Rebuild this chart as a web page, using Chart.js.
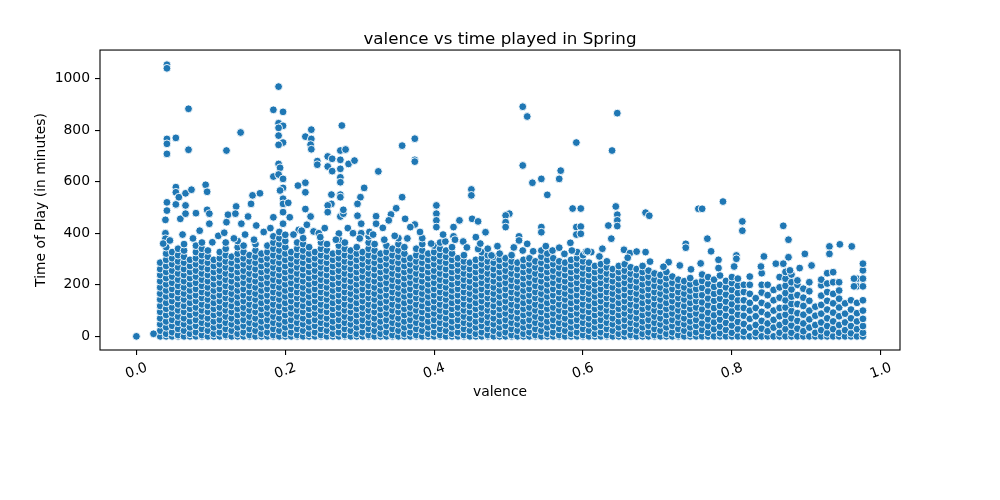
<!DOCTYPE html>
<html>
<head>
<meta charset="utf-8">
<script src="https://cdn.jsdelivr.net/npm/chart.js@4.4.0/dist/chart.umd.min.js"></script>
<style>
html,body{margin:0;padding:0;background:#ffffff;}
#wrap{width:1000px;height:500px;}
</style>
</head>
<body>
<div id="wrap"><canvas id="c" width="1000" height="500"></canvas></div>
<script>
const chartTitle = 'valence vs time played in Spring';
const xLabel = 'valence';
const yLabel = 'Time of Play (in minutes)';
const xTicks = [0.0, 0.2, 0.4, 0.6, 0.8, 1.0];
const xTickLabels = ['0.0', '0.2', '0.4', '0.6', '0.8', '1.0'];
const yTicks = [0, 200, 400, 600, 800, 1000];
const yTickLabels = ['0', '200', '400', '600', '800', '1000'];

// dense body of the cloud: one valence per column, with the play times read in that column
const colValence = [
0.032,0.040,0.048,0.056,0.064,0.072,0.080,0.088,0.096,0.104,0.112,0.120,0.128,0.136,0.144,0.152,0.160,0.168,0.176,0.184,
0.192,0.200,0.208,0.216,0.224,0.232,0.240,0.248,0.256,0.264,0.272,0.280,0.288,0.296,0.304,0.312,0.320,0.328,0.336,0.344,
0.352,0.360,0.368,0.376,0.384,0.392,0.400,0.408,0.416,0.424,0.432,0.440,0.448,0.456,0.464,0.472,0.480,0.488,0.496,0.504,
0.512,0.520,0.528,0.536,0.544,0.552,0.560,0.568,0.576,0.584,0.592,0.600,0.608,0.616,0.624,0.632,0.640,0.648,0.656,0.664,
0.672,0.680,0.688,0.696,0.704,0.712,0.720,0.728,0.736,0.744,0.752,
0.760,0.768,0.776,0.784,0.792,0.800,0.808,0.816,0.824,0.832,0.840,0.848,0.856,0.864,0.872,0.880,0.888,0.896,0.904,0.912,
0.920,0.928,0.936,0.944,0.952,0.960,0.968,0.976
];
const colTimes = [
[0,22,47,70,95,118,143,166,190,214,238,261,286],
[0,10,35,58,83,107,130,155,178,202,226,250,273,297,321],
[0,16,41,64,89,112,137,160,184,208,232,255,280,303,327],
[0,5,29,53,77,101,124,149,172,196,220,244,268,291,315,340],
[0,22,47,70,95,118,143,166,190,214,238,261,286,309,333,358],
[0,10,35,58,83,107,130,155,178,202,226,250,273,297],
[0,16,41,64,89,112,137,160,184,208,232,255,280,303,327,352],
[0,5,29,53,77,101,124,149,172,196,220,244,268,291,315,340,364],
[0,22,47,70,95,118,143,166,190,214,238,261,286,309,333],
[0,10,35,58,83,107,130,155,178,202,226,250,273,297],
[0,16,41,64,89,112,137,160,184,208,232,255,280,303,327],
[0,5,29,53,77,101,124,149,172,196,220,244,268,291,315,340,364],
[0,22,47,70,95,118,143,166,190,214,238,261,286,309],
[0,10,35,58,83,107,130,155,178,202,226,250,273,297,321,346,370],
[0,16,41,64,89,112,137,160,184,208,232,255,280,303,327,352],
[0,5,29,53,77,101,124,149,172,196,220,244,268,291,315],
[0,22,47,70,95,118,143,166,190,214,238,261,286,309,333,358],
[0,10,35,58,83,107,130,155,178,202,226,250,273,297,321],
[0,16,41,64,89,112,137,160,184,208,232,255,280,303,327,352],
[0,5,29,53,77,101,124,149,172,196,220,244,268,291,315,340,364,388],
[0,22,47,70,95,118,143,166,190,214,238,261,286,309,333,358,381,405],
[0,10,35,58,83,107,130,155,178,202,226,250,273,297,321,346,370,394],
[0,16,41,64,89,112,137,160,184,208,232,255,280,303,327],
[0,5,29,53,77,101,124,149,172,196,220,244,268,291,315,340,364],
[0,22,47,70,95,118,143,166,190,214,238,261,286,309,333,358,381],
[0,10,35,58,83,107,130,155,178,202,226,250,273,297,321,346],
[0,16,41,64,89,112,137,160,184,208,232,255,280,303,327],
[0,5,29,53,77,101,124,149,172,196,220,244,268,291,315,340,364],
[0,22,47,70,95,118,143,166,190,214,238,261,286,309,333,358],
[0,10,35,58,83,107,130,155,178,202,226,250,273,297,321],
[0,16,41,64,89,112,137,160,184,208,232,255,280,303,327,352,375,399],
[0,5,29,53,77,101,124,149,172,196,220,244,268,291,315,340,364],
[0,22,47,70,95,118,143,166,190,214,238,261,286,309,333],
[0,10,35,58,83,107,130,155,178,202,226,250,273,297,321,346],
[0,16,41,64,89,112,137,160,184,208,232,255,280,303,327],
[0,5,29,53,77,101,124,149,172,196,220,244,268,291,315,340,364,388],
[0,22,47,70,95,118,143,166,190,214,238,261,286,309,333,358],
[0,10,35,58,83,107,130,155,178,202,226,250,273,297,321],
[0,16,41,64,89,112,137,160,184,208,232,255,280,303,327,352],
[0,5,29,53,77,101,124,149,172,196,220,244,268,291,315,340],
[0,22,47,70,95,118,143,166,190,214,238,261,286,309,333,358,381],
[0,10,35,58,83,107,130,155,178,202,226,250,273,297,321,346],
[0,16,41,64,89,112,137,160,184,208,232,255,280,303],
[0,5,29,53,77,101,124,149,172,196,220,244,268,291,315,340],
[0,22,47,70,95,118,143,166,190,214,238,261,286,309,333,358,381],
[0,10,35,58,83,107,130,155,178,202,226,250,273,297,321],
[0,16,41,64,89,112,137,160,184,208,232,255,280,303,327,352],
[0,5,29,53,77,101,124,149,172,196,220,244,268,291,315,340,364],
[0,22,47,70,95,118,143,166,190,214,238,261,286,309,333],
[0,10,35,58,83,107,130,155,178,202,226,250,273,297,321,346],
[0,16,41,64,89,112,137,160,184,208,232,255,280,303],
[0,5,29,53,77,101,124,149,172,196,220,244,268,291,315],
[0,22,47,70,95,118,143,166,190,214,238,261,286],
[0,10,35,58,83,107,130,155,178,202,226,250,273,297],
[0,16,41,64,89,112,137,160,184,208,232,255,280,303,327],
[0,5,29,53,77,101,124,149,172,196,220,244,268,291,315,340],
[0,22,47,70,95,118,143,166,190,214,238,261,286,309],
[0,10,35,58,83,107,130,155,178,202,226,250,273,297,321],
[0,16,41,64,89,112,137,160,184,208,232,255,280,303],
[0,5,29,53,77,101,124,149,172,196,220,244,268,291,315],
[0,22,47,70,95,118,143,166,190,214,238,261,286],
[0,10,35,58,83,107,130,155,178,202,226,250,273,297],
[0,16,41,64,89,112,137,160,184,208,232,255,280,303],
[0,5,29,53,77,101,124,149,172,196,220,244,268,291],
[0,22,47,70,95,118,143,166,190,214,238,261,286,309,333],
[0,10,35,58,83,107,130,155,178,202,226,250,273,297,321],
[0,16,41,64,89,112,137,160,184,208,232,255,280,303],
[0,5,29,53,77,101,124,149,172,196,220,244,268,291],
[0,22,47,70,95,118,143,166,190,214,238,261,286],
[0,10,35,58,83,107,130,155,178,202,226,250,273,297],
[0,16,41,64,89,112,137,160,184,208,232,255,280,303,327],
[0,5,29,53,77,101,124,149,172,196,220,244,268,291,315],
[0,22,47,70,95,118,143,166,190,214,238,261,286],
[0,10,35,58,83,107,130,155,178,202,226,250,273],
[0,16,41,64,89,112,137,160,184,208,232,255,280],
[0,5,29,53,77,101,124,149,172,196,220,244,268,291],
[0,22,47,70,95,118,143,166,190,214,238,261],
[0,10,35,58,83,107,130,155,178,202,226,250,273],
[0,16,41,64,89,112,137,160,184,208,232,255,280],
[0,5,29,53,77,101,124,149,172,196,220,244,268],
[0,22,47,70,95,118,143,166,190,214,238,261],
[0,10,35,58,83,107,130,155,178,202,226,250,273],
[0,16,41,64,89,112,137,160,184,208,232,255],
[0,5,29,53,77,101,124,149,172,196,220,244],
[0,22,47,70,95,118,143,166,190,214,238],
[0,10,35,58,83,107,130,155,178,202,226,250],
[0,16,41,64,89,112,137,160,184,208,232],
[0,5,29,53,77,101,124,149,172,196,220],
[0,22,47,70,95,118,143,166,190,214],
[0,10,35,58,83,107,130,155,178,202,226],
[0,16,41,64,89,112,137,160,184,208],
[0,25,50,78,105,132,160,188,215,240],
[0,14,40,66,92,120,147,175,203,230],
[0,28,55,82,110,138,165,192,220],
[0,12,38,65,92,118,146,172,200,236],
[0,25,52,80,108,135,162,190,215],
[0,14,42,70,98,125,152,180,207,230],
[0,28,56,84,112,140,168,196,224],
[0,18,48,80,110,140,172,200],
[0,34,68,100,130,165,200,232],
[0,14,44,78,110,148],
[0,30,60,95,130,170,200,245],
[0,20,50,84,120,160,200],
[0,34,64,100,140,180],
[0,14,44,78,110,150,190,230],
[0,28,56,84,112,140,168,196,224,250],
[0,14,42,70,98,126,154,182,210,240],
[0,30,60,90,125,160,200,217],
[0,20,50,84,118,150,185],
[0,34,66,100,138,175,210],
[0,14,44,80,115],
[0,24,54,88,122,158,198,220],
[0,12,40,70,104,138,172,205,245],
[0,28,58,92,128,165,210,249],
[0,14,44,78,112,146,178,210],
[0,24,54,88,128],
[0,12,40,70,104,140],
[0,28,58,90,130,194,224],
[0,14,40,68,100,140,194,224,256,282]
];

// isolated points above the dense body
const outlierValence = [
0.000,0.023,
0.041,0.041,0.041,0.041,0.041,0.041,0.041,0.039,0.039,0.039,0.040,
0.053,0.053,0.053,0.053,0.057,0.059,
0.070,0.070,0.066,0.066,0.066,0.074,0.080,
0.093,0.095,0.095,0.098,0.098,
0.121,0.123,0.121,
0.140,0.134,0.133,
0.141,0.150,0.156,0.166,0.154,0.161,
0.191,0.184,0.197,0.191,0.197,0.191,0.191,0.197,0.191,0.191,0.193,0.184,0.191,0.197,0.197,0.217,
0.184,0.197,0.197,0.193,0.197,0.197,0.204,0.206,0.218,
0.235,0.227,0.235,0.234,0.235,0.276,
0.374,0.357,0.374,0.374,
0.243,0.243,0.257,0.263,0.257,0.263,
0.274,0.281,0.274,0.274,0.274,0.274,0.285,0.293,
0.325,0.306,0.301,0.297,
0.274,0.274,0.262,0.262,0.257,0.257,
0.227,0.227,0.227,0.234,0.229,0.238,0.245,
0.274,0.284,0.291,0.297,0.313,
0.357,0.450,0.450,
0.403,0.403,0.403,0.403,
0.349,0.342,0.339,0.361,0.374,0.368,
0.322,0.322,0.331,
0.434,0.426,0.451,0.459,0.469,
0.302,0.302,0.278,0.278,
0.415,0.426,0.439,0.456,0.459,0.477,
0.519,0.525,0.646,0.591,0.639,0.519,0.570,0.568,0.544,0.532,0.552,
0.586,0.597,0.644,0.646,0.646,0.646,0.684,0.689,
0.501,0.496,0.496,0.496,0.544,0.544,0.591,0.597,0.591,0.597,
0.634,0.638,0.514,0.514,0.525,0.519,0.559,0.568,0.583,0.585,
0.604,0.611,0.626,0.655,0.663,0.672,0.684,
0.738,0.738,0.715,0.730,0.755,
0.760,0.788,0.814,0.814,0.869,0.876,0.767,0.772,0.782,0.806,0.806,0.843,0.898,0.931,0.931,0.945,0.961,
0.758,0.782,0.803,0.839,0.859,0.869,0.876,0.878,0.907,0.891,0.964,0.964,
0.036,0.045,0.062,0.076,0.085,0.102,0.110,0.118,0.131,0.146,0.158,0.171,0.180,0.211,0.222,0.247,0.253,0.268,0.300,0.318,
0.333,0.347,0.364,0.381,0.396,0.412,0.428,0.444,0.462,0.485,0.507,0.533,0.550,0.575,0.606,0.622,0.660,0.690,0.708,0.745
];
const outlierTime = [
0,10,
1054,1040,766,747,708,520,488,452,400,379,346,
770,579,559,512,540,456,
883,724,555,508,476,569,478,
588,561,491,476,437,
721,472,443,
791,504,476,
437,465,547,555,514,430,
969,879,871,827,817,809,779,752,743,669,654,620,628,611,576,585,
462,482,437,566,534,514,518,462,413,
802,775,766,744,726,818,
767,740,685,678,
680,666,698,689,659,641,
721,725,685,650,617,598,669,682,
640,576,540,514,
550,540,550,514,508,482,
596,559,494,465,433,407,400,
465,420,400,468,405,
540,570,547,
508,476,450,424,
497,473,450,456,434,424,
466,437,421,
450,424,456,446,404,
437,400,476,491,
368,388,368,385,339,314,
891,853,866,752,721,663,643,611,611,596,549,
496,496,504,472,450,428,480,468,
476,469,443,424,424,404,424,426,395,398,
430,379,388,372,359,333,333,344,363,333,
329,327,340,336,323,329,327,
359,344,288,275,495,
495,523,446,410,429,375,379,330,297,314,301,310,320,349,320,357,349,
283,265,271,271,282,282,307,256,275,265,224,194,
360,372,395,380,410,365,390,402,380,395,375,405,420,395,410,385,420,375,380,395,
375,390,380,405,360,395,375,345,360,350,345,330,350,320,330,310,305,290,270,260
];

const points = [];
colValence.forEach((v, i) => {
  colTimes[i].forEach(t => points.push({x: v, y: t}));
});
outlierValence.forEach((v, i) => points.push({x: v, y: outlierTime[i]}));

const FONT = 'DejaVu Sans';

const framePlugin = {
  id: 'frame',
  afterDatasetsDraw(chart) {
    const a = chart.chartArea, ctx = chart.ctx;
    ctx.save();
    ctx.strokeStyle = '#000000';
    ctx.lineWidth = 1.1;
    ctx.strokeRect(a.left, a.top, a.right - a.left, a.bottom - a.top);
    ctx.restore();
  }
};

const xTickLabelPlugin = {
  id: 'xTickLabels',
  afterDraw(chart) {
    const sx = chart.scales.x, ctx = chart.ctx;
    const yc = chart.chartArea.bottom + 21;
    ctx.save();
    ctx.fillStyle = '#000000';
    ctx.font = '13.9px "' + FONT + '"';
    ctx.textAlign = 'center';
    ctx.textBaseline = 'middle';
    xTicks.forEach((v, i) => {
      const px = sx.getPixelForValue(v);
      ctx.save();
      ctx.translate(px, yc);
      ctx.rotate(-20 * Math.PI / 180);
      ctx.fillText(xTickLabels[i], 0, 0);
      ctx.restore();
    });
    ctx.restore();
  }
};

new Chart(document.getElementById('c'), {
  type: 'scatter',
  data: {
    datasets: [{
      data: points,
      backgroundColor: '#1f77b4',
      borderColor: '#ffffff',
      borderWidth: 0.9,
      pointRadius: 3.9,
      pointHoverRadius: 3.9
    }]
  },
  options: {
    responsive: false,
    animation: false,
    events: [],
    layout: { padding: { left: 0, right: 0, top: 0, bottom: 0 } },
    plugins: {
      legend: { display: false },
      tooltip: { enabled: false },
      title: {
        display: true,
        text: chartTitle,
        color: '#000000',
        font: { family: FONT, size: 16.7, weight: 'normal' },
        padding: { top: 30, bottom: 0 }
      }
    },
    scales: {
      x: {
        type: 'linear',
        min: -0.0489,
        max: 1.0258,
        afterBuildTicks: s => { s.ticks = xTicks.map(v => ({ value: v })); },
        afterFit: s => { s.height = 150; },
        ticks: { display: false },
        grid: { drawOnChartArea: false, drawTicks: true, tickLength: 5, color: '#000000', lineWidth: 1.1 },
        border: { display: false },
        title: {
          display: true,
          text: xLabel,
          color: '#000000',
          font: { family: FONT, size: 13.9 },
          padding: { top: 0, bottom: 99.7 }
        }
      },
      y: {
        type: 'linear',
        min: -52.9,
        max: 1110.9,
        afterBuildTicks: s => { s.ticks = yTicks.map(v => ({ value: v })); },
        afterFit: s => { s.width = 100; },
        ticks: {
          color: '#000000',
          padding: 5,
          font: { family: FONT, size: 13.9 },
          callback: v => yTickLabels[yTicks.indexOf(v)]
        },
        grid: { drawOnChartArea: false, drawTicks: true, tickLength: 5, color: '#000000', lineWidth: 1.1 },
        border: { display: false },
        title: {
          display: true,
          text: yLabel,
          color: '#000000',
          font: { family: FONT, size: 13.9 },
          padding: { top: 33.4, bottom: 0 }
        }
      },
      yRight: {
        type: 'linear',
        position: 'right',
        min: -52.9,
        max: 1110.9,
        afterFit: s => { s.width = 100; },
        ticks: { display: false },
        grid: { display: false },
        border: { display: false }
      }
    }
  },
  plugins: [framePlugin, xTickLabelPlugin]
});
</script>
</body>
</html>
